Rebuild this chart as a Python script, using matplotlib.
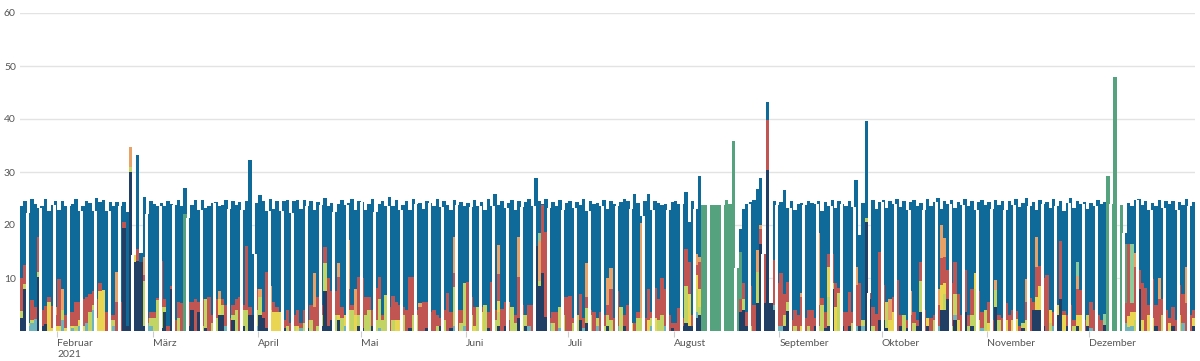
import numpy as np
import matplotlib
matplotlib.use("Agg")
import matplotlib.pyplot as plt

# ---- data (day index 0 = 21 Jan 2021, 345 days until 31 Dec 2021) ----
month_starts = [11, 39, 70, 100, 131, 161, 192, 223, 253, 284, 314]
month_labels = ["Februar\n2021", "März", "April", "Mai", "Juni", "Juli", "August",
                "September", "Oktober", "November", "Dezember"]
y_ticks = [10, 20, 30, 40, 50, 60]

# height of each day's bar (top of the stack)
day_top = (
    # Jan 21-31
    [23.6, 24.5, 22.2, 24.9, 23.9, 23.2, 23.6, 25.0, 22.7, 23.7, 24.5] +
    # Feb
    [22.8, 24.5, 23.6, 23.6, 24.0, 24.9, 22.6, 23.6, 24.5, 24.1,
     22.6, 25.1, 24.3, 24.7, 22.6, 24.4, 23.5, 24.3, 23.5, 24.4,
     22.4, 34.8, 14.3, 33.3, 14.7, 25.3, 22.0, 24.5] +
    # Mar
    [24.0, 23.5, 24.2, 23.6, 24.6, 23.9, 23.8, 24.8, 23.6, 26.9,
     21.3, 23.8, 24.8, 22.8, 24.8, 23.2, 23.5, 24.1, 24.3, 23.6,
     23.8, 24.7, 23.0, 24.6, 23.8, 24.4, 22.9, 24.6, 32.3, 14.5, 24.2] +
    # Apr
    [25.7, 24.5, 22.7, 25.0, 23.1, 24.6, 22.6, 24.6, 24.8, 22.3,
     24.6, 24.7, 23.0, 24.8, 23.6, 24.5, 22.8, 24.3, 23.7, 25.1,
     23.6, 24.1, 22.5, 23.9, 24.7, 23.8, 24.1, 25.0, 22.8, 24.6] +
    # May
    [24.3, 22.9, 23.9, 24.9, 22.5, 24.0, 24.5, 23.6, 25.2, 23.5,
     24.8, 22.9, 23.8, 24.6, 22.8, 24.9, 23.9, 24.2, 23.0, 24.5,
     24.1, 23.5, 25.0, 23.4, 24.6, 23.8, 22.9, 24.8, 23.7, 24.3, 23.6] +
    # Jun
    [24.2, 23.4, 24.7, 23.6, 24.4, 22.8, 24.9, 23.5, 25.8, 23.7,
     24.6, 23.2, 24.1, 24.8, 22.9, 24.5, 23.4, 24.3, 25.0, 23.6,
     28.9, 24.5, 24.0, 24.9, 23.2, 24.4, 23.6, 24.8, 22.9, 24.1] +
    # Jul
    [24.6, 23.3, 24.3, 23.7, 24.9, 22.6, 24.5, 23.9, 24.2, 23.5,
     24.8, 23.1, 24.6, 24.0, 23.5, 24.3, 24.9, 24.5, 23.0, 25.8,
     24.2, 21.7, 24.5, 25.9, 22.9, 24.6, 24.2, 23.8, 24.0, 22.8, 24.3] +
    # Aug
    [24.5, 24.0, 23.9, 26.2, 20.6, 24.5, 23.0, 29.2,
     23.8, 23.8, 23.8, 23.8, 23.8, 23.8, 23.8, 24.7, 24.0, 35.8, 11.9,
     19.2, 23.0, 24.0, 24.3, 24.8, 26.7, 28.8, 14.6, 43.3, 5.2, 24.5, 23.8] +
    # Sep
    [24.4, 26.6, 23.3, 24.5, 22.8, 24.0, 24.2, 23.8, 24.6, 24.1,
     23.9, 24.5, 22.7, 24.3, 23.6, 24.8, 23.2, 24.6, 24.0, 23.5,
     24.6, 23.4, 28.5, 18.1, 24.2, 39.6, 7.1, 24.8, 23.0, 24.4] +
    # Oct
    [24.8, 23.2, 24.5, 23.9, 25.0, 23.4, 24.6, 22.9, 24.3, 24.8,
     23.6, 24.2, 22.8, 24.9, 23.5, 24.4, 25.1, 23.0, 24.5, 23.9,
     24.7, 23.3, 24.4, 23.8, 25.0, 23.6, 24.6, 22.9, 24.3, 24.8, 23.7] +
    # Nov
    [24.3, 23.1, 24.8, 23.7, 24.5, 22.9, 24.6, 23.8, 24.9, 23.4,
     24.2, 25.0, 23.5, 24.4, 22.8, 24.7, 23.9, 24.3, 23.2, 24.9,
     23.6, 24.5, 22.7, 24.1, 25.1, 23.3, 24.6, 23.9, 24.4, 23.0] +
    # Dec
    [24.2, 23.6, 24.8, 24.0, 24.3, 29.2, 24.0, 47.9, 0.0, 23.8,
     18.4, 24.1, 23.5, 24.7, 25.0, 23.8, 24.5, 22.9, 24.2, 23.6,
     24.8, 23.3, 24.5, 23.9, 24.6, 22.8, 24.4, 23.7, 24.9, 23.5, 24.3]
)

# lower segments, {day index: hours}
navy = {0: 2.5, 1: 8, 5: 10.2, 6: 1, 7: 1.3, 30: 19.5, 31: 1, 32: 30, 33: 13, 34: 13.3, 35: 13, 36: 1,
        41: 0.5, 42: 3.5, 44: 8, 49: 1, 50: 4, 52: 3.5, 54: 0.5, 58: 3, 59: 3, 62: 2, 65: 1, 67: 3, 68: 3,
        70: 3, 71: 2.5, 72: 0.5, 77: 0.5, 84: 0.5, 88: 1, 89: 7.6, 90: 1, 91: 2, 93: 2, 99: 1,
        100: 0.5, 103: 1, 114: 0.5, 119: 0.5, 123: 1, 126: 0.5,
        137: 0.5, 140: 1, 142: 1, 146: 2.5, 148: 1, 151: 16, 152: 8.5, 153: 11, 154: 2.7,
        164: 2, 166: 1.5, 172: 1, 177: 1, 191: 0.5,
        194: 1, 195: 1.5, 196: 1, 197: 1, 198: 2.5, 199: 3, 211: 3.5, 212: 4, 213: 1, 216: 5.2,
        217: 16.5, 218: 5.2, 219: 30.4, 220: 5.2, 221: 4,
        224: 1, 225: 3.8, 233: 1, 236: 0.5, 237: 1, 238: 8, 241: 1, 243: 1, 246: 1, 248: 20.6, 249: 6, 252: 2,
        253: 2, 254: 0.5, 258: 1, 260: 0.5, 263: 1, 264: 3.5, 266: 1, 270: 4, 271: 4, 272: 6, 274: 2,
        277: 3.5, 279: 1,
        286: 4.5, 294: 0.5, 297: 4, 298: 4, 299: 4, 300: 1, 304: 3, 305: 6, 307: 1, 310: 1, 313: 1,
        318: 1.2, 328: 8, 333: 1, 338: 1, 344: 1}

teal = {2: 1, 3: 1.5, 4: 2.2, 12: 2, 15: 0.5, 17: 1, 19: 1.5, 21: 4, 27: 1, 37: 1.5, 38: 1, 60: 1, 69: 1,
        82: 0.5, 95: 1, 105: 0.5, 127: 1, 130: 1, 149: 1, 155: 1.5, 158: 0.5, 165: 0.5, 169: 1, 175: 1,
        185: 1, 189: 1, 198: 1, 221: 1, 222: 1, 223: 1, 245: 1, 247: 1, 269: 1, 274: 1, 282: 0.5,
        303: 1, 314: 0.5, 324: 1.5, 325: 0.8, 326: 1, 341: 1.5}

yellowgreen = {0: 1.3, 1: 0.8, 2: 0.5, 3: 0.5, 5: 1, 12: 2, 14: 1, 16: 1, 20: 3.5, 21: 1, 26: 2, 27: 1,
               32: 1, 36: 8.5, 38: 1.5, 39: 2.5, 40: 5.8, 41: 4, 42: 1, 46: 2.5, 53: 1, 54: 5.5, 56: 1.5,
               57: 2.5, 59: 2, 62: 1, 63: 4, 65: 3, 66: 4, 69: 3, 70: 3.5, 78: 1, 80: 1, 83: 1.5, 85: 2,
               87: 1, 88: 2, 89: 5.2, 92: 3, 94: 2.5, 97: 4, 99: 2,
               101: 3, 102: 4, 104: 2, 105: 5.5, 106: 2, 107: 6.8, 109: 2, 112: 3, 115: 3, 116: 3, 122: 1,
               124: 2, 127: 7.3, 129: 1.5, 130: 8,
               132: 3, 134: 4.5, 136: 5, 139: 2, 140: 2.5, 144: 4.5, 145: 1.5, 147: 3, 148: 2, 152: 1,
               156: 1.5, 158: 4.1, 159: 3,
               162: 1.5, 163: 3, 166: 2.8, 167: 3, 169: 1.5, 171: 1, 172: 2, 173: 2, 176: 4.6, 181: 2.5,
               182: 2.5, 185: 1.5, 187: 2, 188: 3,
               195: 7, 198: 4.5, 199: 1.5, 212: 2, 214: 1, 216: 6,
               224: 2, 225: 1.7, 227: 1, 231: 1, 234: 1, 235: 5, 237: 5.5, 238: 1, 240: 7.2, 244: 1.5,
               247: 1, 248: 0.7, 250: 1,
               254: 5, 259: 3, 262: 1.5, 264: 6, 268: 2, 271: 3, 273: 1, 274: 4, 278: 1, 279: 2, 280: 8, 283: 4,
               286: 3.3, 287: 2, 294: 1, 302: 1.5, 309: 1, 313: 2,
               327: 2, 335: 3}

yellow = {8: 5.5, 9: 0.5, 10: 1, 11: 1, 13: 0.5, 15: 0.5, 17: 1, 18: 1, 22: 2.5, 23: 7.5, 24: 7.8, 33: 1.3,
          58: 3, 73: 4, 74: 3.5, 75: 3.5, 76: 3.5, 81: 1, 93: 1, 95: 2, 96: 4, 98: 3,
          110: 2, 111: 2, 133: 1, 135: 3.5, 140: 2.2, 179: 1.5, 184: 2, 186: 2.5,
          196: 6, 198: 2.5, 199: 3.5, 229: 1, 237: 5.6, 239: 4.5,
          255: 2, 256: 3.5, 266: 1.5, 270: 4.7, 271: 2, 275: 2, 280: 3, 281: 2,
          284: 1.5, 289: 2, 291: 2, 292: 2.3, 295: 2, 298: 2.5, 299: 4.5, 302: 2.5, 304: 2, 306: 3,
          310: 2, 311: 3,
          325: 2, 326: 2.5, 327: 1.5, 329: 2, 331: 3, 332: 2.5, 337: 1.5, 340: 3, 344: 1.5}

red = {0: 6.2, 1: 3.6, 3: 3.8, 4: 2.3, 5: 6.6, 6: 3, 7: 3.5, 8: 1, 9: 4.2, 10: 2, 11: 8.8, 13: 2.5, 14: 2.5,
       15: 2.5, 16: 4.5, 17: 3.5, 18: 5, 19: 5, 20: 3.5, 21: 2.5, 22: 3.5, 23: 1.5, 25: 3.5, 26: 1, 27: 1,
       28: 5.5, 29: 5.5, 30: 1, 34: 2.2, 36: 1, 37: 1, 38: 1,
       39: 1, 40: 0.5, 41: 8.8, 42: 1.5, 43: 1, 44: 0.5, 45: 2, 46: 3, 47: 5.3, 49: 4.5, 50: 1.5, 51: 6,
       52: 2, 53: 5, 55: 6.5, 56: 1.5, 57: 3.5, 59: 1, 60: 4, 61: 2.5, 62: 2, 63: 2, 64: 6.5, 65: 1,
       66: 12, 67: 1.5, 69: 4,
       71: 1, 72: 10.7, 74: 2, 75: 1, 77: 1.5, 78: 3, 79: 1.5, 80: 2, 81: 3, 82: 1, 83: 2.5, 84: 1.5,
       85: 3, 86: 4.5, 87: 5.5, 88: 2, 89: 3.1, 90: 9, 91: 5.5, 92: 4.5, 93: 7.2, 94: 2, 96: 4, 97: 1, 99: 7.2,
       100: 9.5, 101: 3.5, 102: 2.5, 103: 3, 104: 6.2, 105: 4.2, 106: 1, 108: 4.5, 109: 4.6, 110: 3.5,
       111: 3, 112: 1.5, 113: 4, 114: 9.7, 115: 7.2, 116: 1, 117: 4.5, 118: 5.4, 119: 4.9, 120: 3.5,
       121: 4, 122: 2, 123: 1.5, 124: 2, 125: 7.2, 126: 3, 127: 2.6, 128: 4, 129: 2.5,
       131: 9.2, 132: 3.5, 133: 3.5, 135: 1, 137: 3, 138: 9.2, 139: 2, 140: 5, 141: 4.2, 142: 4.5,
       143: 2, 145: 1.5, 146: 7.7, 147: 2, 149: 4, 150: 5, 153: 12.8, 154: 16, 155: 1, 156: 2, 157: 3.5,
       159: 3.5, 160: 6.5,
       161: 6.6, 162: 1, 164: 5, 165: 2, 166: 2.2, 167: 1, 168: 3.5, 170: 3.5, 171: 2, 172: 2, 173: 6,
       174: 2.5, 175: 6.5, 177: 2, 178: 5, 180: 1.5, 181: 1, 183: 2.5, 184: 5.9, 185: 1, 186: 5.7,
       187: 4, 188: 7, 189: 7, 190: 3, 191: 1,
       192: 1.5, 193: 4.4, 194: 1.5, 195: 7, 196: 6, 197: 2, 198: 2, 199: 5, 211: 2.5, 212: 3, 213: 2.5,
       214: 7.5, 215: 5, 217: 2.7, 218: 9.4, 219: 9.4, 221: 8.4, 222: 8,
       223: 10, 224: 4, 225: 3.7, 226: 2, 227: 3, 228: 3, 229: 5.5, 230: 2.5, 231: 3, 232: 4, 233: 1.5,
       234: 4, 235: 1.2, 236: 3, 237: 2.5, 238: 5.6, 239: 4.5, 240: 1, 241: 2.5, 242: 3.5, 243: 6.3,
       244: 2, 245: 7.7, 246: 8, 249: 1.1, 250: 3.5, 251: 3.2, 252: 13,
       253: 6.7, 256: 3, 257: 9.6, 258: 2, 260: 1.5, 261: 3, 262: 2, 263: 1, 264: 3.6, 265: 4, 267: 2.5,
       268: 1, 269: 4, 270: 5, 271: 5, 272: 5.5, 273: 8, 274: 6, 275: 5, 276: 3, 277: 8, 278: 2, 279: 5,
       281: 5.5, 282: 3,
       284: 4, 285: 2, 287: 1, 288: 2.5, 289: 3.2, 290: 3, 291: 2, 292: 1.5, 293: 1, 295: 3.4, 296: 6.2,
       297: 1.5, 298: 5.6, 299: 3.8, 300: 9, 301: 10.5, 303: 2.5, 305: 10.9, 306: 0.8, 307: 2, 308: 5,
       309: 1, 310: 5, 311: 4.7, 312: 2,
       314: 5, 315: 4, 316: 3, 317: 2, 324: 3.7, 325: 13.7, 326: 1.7, 327: 8.6, 328: 3.5, 329: 7, 330: 8.2,
       331: 2, 332: 7.3, 333: 4, 334: 6, 335: 3, 336: 4, 337: 1, 338: 3.5, 339: 2, 340: 5.6, 341: 5.5,
       342: 5.2, 343: 3, 344: 1.5}

orange = {10: 1.5, 12: 4, 28: 5.7, 32: 3.8, 36: 3.5, 58: 1.5, 70: 1.5, 73: 4.4, 86: 6.5, 93: 2.6, 96: 9.2,
          98: 5, 117: 0.7, 127: 6.9, 140: 5.5, 143: 3.5, 146: 7.6, 152: 7.5, 166: 6.3, 172: 5, 173: 3.8,
          182: 17.8, 198: 2, 199: 1, 216: 4, 217: 0.8, 229: 0.6, 234: 13.4, 245: 3.3, 255: 4, 261: 4.5,
          269: 3, 270: 6.3, 271: 3.5, 286: 1.8, 295: 4.5, 298: 5.7, 310: 2.3, 327: 2.6, 334: 4, 342: 6.9}

mint = {152: 1.5, 310: 2.8, 318: 2.1, 326: 11.3}

green = {48: 22, 200: 23.8, 201: 23.8, 202: 23.8, 203: 23.8, 204: 23.8, 205: 23.8, 206: 23.8,
         207: 24.7, 208: 24.0, 209: 35.8, 210: 11.9, 211: 9,
         319: 29.2, 320: 24.0, 321: 47.9, 323: 23.8, 324: 11.3}

# ---- build ----
n_days = len(day_top)
days = np.arange(n_days)


def to_array(d):
    a = np.zeros(n_days)
    for k, v in d.items():
        a[k] = v
    return a


layers = [
    (to_array(navy), "#213f64"),
    (to_array(teal), "#6db4bd"),
    (to_array(yellowgreen), "#c2d564"),
    (to_array(yellow), "#e9d552"),
    (to_array(red), "#c15551"),
    (to_array(orange), "#e8a268"),
    (to_array(mint), "#8dcb9a"),
    (to_array(green), "#55a27f"),
]
lower_sum = sum(a for a, _ in layers)
tops = np.array(day_top)
blue = np.clip(tops - lower_sum, 0, None)
layers.append((blue, "#0f6a9a"))

fig = plt.figure(figsize=(12, 3.61), dpi=100)
ax = fig.add_axes([20 / 1200, 30 / 361, 1175 / 1200, 318 / 361])

bottom = np.zeros(n_days)
for vals, col in layers:
    ax.bar(days + 0.5, vals, width=1.0, bottom=bottom, color=col, linewidth=0,
           antialiased=False, zorder=2)
    bottom = bottom + vals

# thin white seams between some neighbouring bars, as in the original rendering
seam_x = np.round(np.arange(2.0, n_days, 3.925))
seam_x = seam_x[(seam_x > 0) & (seam_x < n_days)]
seam_top = [min(tops[int(s) - 1], tops[int(s)]) for s in seam_x]
ax.vlines(seam_x, 0, seam_top, colors="white", linewidth=0.75, antialiased=False, zorder=3)

ax.set_xlim(0, n_days)
ax.set_ylim(0, 60)
ax.set_axisbelow(True)
ax.yaxis.grid(True, color="#e3e3e3", linewidth=1)
for s in ax.spines.values():
    s.set_visible(False)

ax.set_yticks(y_ticks)
ax.set_yticklabels([str(t) for t in y_ticks])
ax.tick_params(axis="y", length=0, pad=3, labelsize=7.5, labelcolor="#555555")
for lab in ax.get_yticklabels():
    lab.set_fontfamily("Lato")

ax.set_xticks(month_starts)
ax.set_xticklabels(month_labels, ha="left", fontfamily="Lato")
ax.tick_params(axis="x", length=4, color="#cccccc", pad=2, labelsize=7.5, labelcolor="#555555")

fig.savefig("out.png", dpi=100)
